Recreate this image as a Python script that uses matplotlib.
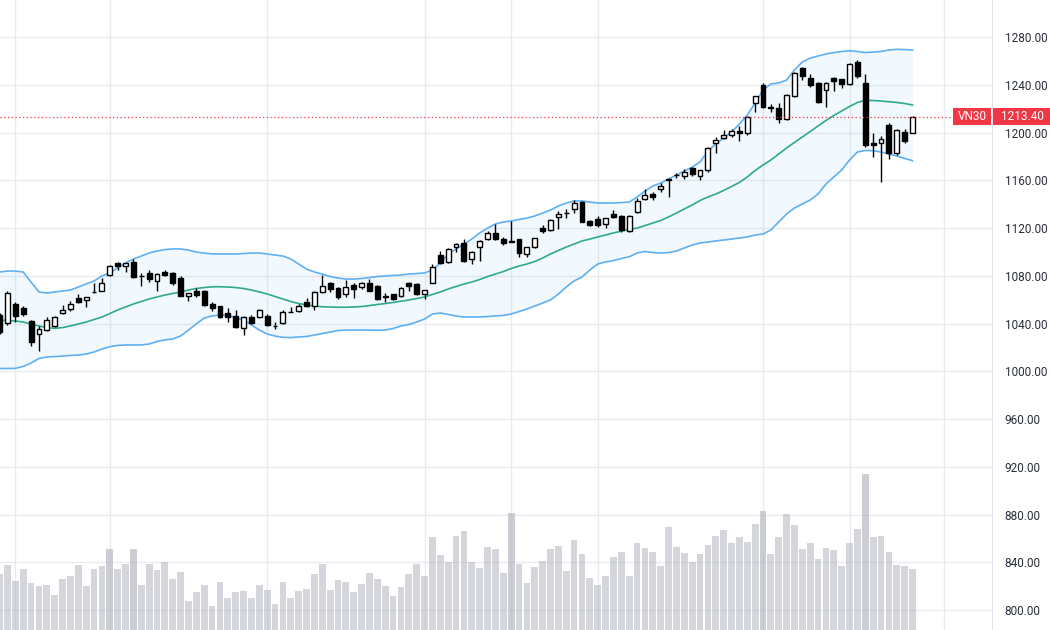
import numpy as np
import matplotlib.pyplot as plt
from matplotlib.patches import Rectangle
from matplotlib.transforms import blended_transform_factory

# daily OHLC of VN30 (oldest first)
opens = [1047.2, 1040.2, 1056.1, 1052.8, 1042.1, 1031.0, 1034.6, 1038.0, 1048.6, 1052.0,
         1061.2, 1059.7, 1066.2, 1067.5, 1080.7, 1090.5, 1088.2, 1091.8, 1080.2, 1082.6,
         1075.9, 1083.4, 1082.1, 1077.9, 1063.1, 1067.3, 1067.5, 1056.4, 1054.7, 1049.1,
         1046.3, 1036.0, 1045.2, 1045.2, 1046.3, 1038.4, 1040.7, 1049.8, 1050.8, 1058.3,
         1054.7, 1066.7, 1073.7, 1069.5, 1064.8, 1072.3, 1070.4, 1074.2, 1071.5, 1062.8,
         1064.5, 1063.1, 1073.7, 1073.1, 1064.8, 1074.2, 1097.4, 1091.8, 1103.9, 1107.2,
         1093.8, 1103.9, 1110.6, 1116.1, 1110.6, 1108.4, 1110.6, 1098.3, 1103.9, 1120.0,
         1118.4, 1129.5, 1133.0, 1135.7, 1142.1, 1125.9, 1127.3, 1123.4, 1131.8, 1130.1,
         1117.5, 1133.7, 1144.3, 1148.5, 1152.4, 1160.6, 1164.2, 1163.6, 1170.0, 1163.6,
         1168.6, 1191.0, 1195.2, 1197.9, 1201.5, 1199.3, 1224.5, 1239.8, 1221.5, 1220.3,
         1211.1, 1230.6, 1253.8, 1245.4, 1241.7, 1235.6, 1245.4, 1244.6, 1240.6, 1258.9,
         1241.7, 1191.0, 1191.5, 1206.3, 1183.1, 1200.7, 1199.9]
highs = [1049.0, 1067.3, 1058.3, 1054.7, 1043.0, 1038.0, 1045.5, 1046.5, 1055.5, 1058.9,
         1064.8, 1062.3, 1073.7, 1078.4, 1089.0, 1091.6, 1091.0, 1093.8, 1082.1, 1084.9,
         1082.0, 1084.5, 1083.0, 1079.8, 1066.0, 1069.5, 1068.0, 1058.3, 1055.0, 1052.8,
         1051.4, 1046.0, 1047.2, 1052.0, 1048.0, 1041.6, 1051.0, 1054.1, 1056.0, 1061.2,
         1067.0, 1080.7, 1075.0, 1071.0, 1076.5, 1074.2, 1074.5, 1077.1, 1072.5, 1065.3,
         1065.0, 1071.0, 1075.0, 1074.0, 1068.5, 1089.9, 1101.0, 1103.0, 1107.7, 1110.6,
         1101.0, 1110.0, 1117.8, 1123.4, 1112.8, 1126.1, 1111.0, 1104.5, 1112.0, 1122.5,
         1127.5, 1134.3, 1135.7, 1143.5, 1143.0, 1127.0, 1130.1, 1128.5, 1135.1, 1131.0,
         1131.0, 1144.9, 1152.4, 1150.4, 1157.5, 1161.7, 1166.4, 1169.2, 1171.4, 1169.0,
         1187.5, 1196.0, 1202.1, 1202.7, 1205.5, 1213.8, 1231.0, 1241.2, 1223.9, 1224.5,
         1232.0, 1251.0, 1255.1, 1249.0, 1242.0, 1242.0, 1246.2, 1245.0, 1258.0, 1260.7,
         1249.0, 1199.3, 1197.1, 1208.2, 1202.7, 1202.7, 1214.0]
lows = [1031.0, 1038.8, 1041.6, 1046.3, 1021.2, 1017.0, 1034.0, 1037.5, 1048.0, 1050.5,
        1057.0, 1054.0, 1066.0, 1067.0, 1080.0, 1085.0, 1083.4, 1078.0, 1071.5, 1075.0,
        1067.3, 1080.0, 1072.3, 1063.0, 1059.0, 1062.0, 1055.0, 1050.8, 1045.0, 1041.6,
        1036.0, 1030.4, 1040.0, 1044.5, 1038.0, 1035.2, 1040.0, 1049.5, 1050.0, 1053.5,
        1051.4, 1066.0, 1066.7, 1061.0, 1062.5, 1061.2, 1069.0, 1067.0, 1059.5, 1058.3,
        1060.0, 1062.5, 1067.5, 1063.9, 1060.3, 1074.0, 1090.0, 1091.0, 1100.2, 1092.0,
        1089.9, 1092.6, 1110.0, 1110.0, 1105.8, 1108.0, 1096.0, 1095.5, 1103.0, 1116.1,
        1117.5, 1119.0, 1128.2, 1132.3, 1125.0, 1121.8, 1121.1, 1119.8, 1128.2, 1117.0,
        1117.0, 1132.9, 1143.5, 1143.5, 1150.4, 1146.2, 1161.7, 1160.8, 1164.0, 1160.2,
        1167.2, 1182.6, 1194.3, 1196.5, 1193.2, 1197.9, 1217.4, 1220.5, 1217.4, 1208.2,
        1210.5, 1230.0, 1244.0, 1237.9, 1224.5, 1221.6, 1235.0, 1237.0, 1240.0, 1246.0,
        1187.6, 1179.2, 1158.8, 1177.6, 1181.2, 1191.0, 1199.3]
closes = [1033.0, 1065.3, 1046.3, 1048.0, 1024.8, 1035.2, 1043.0, 1045.8, 1051.4, 1056.1,
          1058.3, 1062.0, 1066.7, 1074.2, 1088.2, 1088.2, 1090.5, 1078.7, 1079.8, 1077.1,
          1081.3, 1080.7, 1073.7, 1063.1, 1065.8, 1063.9, 1055.5, 1052.8, 1045.8, 1045.8,
          1036.9, 1045.2, 1040.7, 1051.4, 1038.8, 1038.0, 1050.0, 1050.0, 1054.7, 1054.7,
          1066.1, 1071.5, 1068.7, 1062.0, 1070.4, 1068.7, 1073.7, 1067.5, 1060.3, 1062.3,
          1060.5, 1070.1, 1071.5, 1064.8, 1068.1, 1087.6, 1090.5, 1102.2, 1106.4, 1092.6,
          1100.2, 1109.4, 1115.6, 1110.6, 1107.7, 1108.8, 1098.8, 1103.9, 1111.4, 1117.5,
          1126.7, 1131.8, 1132.6, 1141.2, 1125.4, 1122.5, 1122.5, 1128.2, 1129.5, 1118.4,
          1130.1, 1142.9, 1147.7, 1146.2, 1155.2, 1161.0, 1164.6, 1167.2, 1165.0, 1168.6,
          1186.8, 1193.7, 1197.9, 1201.3, 1199.8, 1213.3, 1230.6, 1221.6, 1220.7, 1211.1,
          1231.4, 1250.1, 1247.3, 1239.8, 1225.8, 1241.2, 1243.4, 1240.6, 1257.4, 1247.0,
          1189.5, 1189.8, 1194.3, 1182.6, 1202.1, 1193.2, 1213.4]
# volume, millions of shares
volumes = [113, 130, 99, 123, 95, 88, 90, 70, 103, 109,
           130, 88, 123, 128, 162, 123, 132, 163, 90, 132,
           121, 136, 103, 117, 58, 76, 90, 48, 97, 64,
           76, 78, 64, 90, 81, 53, 97, 64, 78, 82,
           113, 133, 80, 101, 97, 76, 93, 115, 103, 88,
           68, 86, 113, 132, 109, 187, 150, 136, 189, 199,
           136, 124, 167, 163, 115, 235, 132, 95, 126, 138,
           163, 169, 118, 181, 153, 105, 91, 109, 146, 157,
           109, 175, 165, 157, 128, 206, 167, 155, 136, 152,
           171, 189, 201, 175, 187, 177, 212, 239, 152, 187,
           233, 210, 163, 175, 142, 165, 161, 128, 175, 202,
           313, 187, 189, 157, 130, 128, 122]
# Bollinger band (20, 2) as drawn on the chart
bb_upper = [1083.2, 1084.0, 1084.0, 1083.2, 1074.8, 1066.5, 1065.6, 1066.5, 1067.3, 1068.1,
            1070.6, 1073.2, 1075.7, 1079.9, 1082.4, 1086.6, 1090.7, 1094.1, 1096.6, 1099.1,
            1100.8, 1102.0, 1102.5, 1102.5, 1101.6, 1099.9, 1099.1, 1098.3, 1098.3, 1098.3,
            1098.3, 1098.7, 1099.1, 1099.1, 1098.3, 1097.4, 1096.6, 1094.1, 1089.9, 1085.7,
            1083.2, 1081.5, 1079.4, 1078.2, 1077.3, 1077.3, 1077.8, 1078.6, 1079.4, 1079.9,
            1080.3, 1080.7, 1081.5, 1081.9, 1082.4, 1084.9, 1090.7, 1098.3, 1102.5, 1106.6,
            1110.8, 1115.9, 1120.0, 1123.4, 1125.1, 1125.9, 1127.2, 1128.4, 1130.1, 1132.6,
            1135.1, 1138.5, 1141.0, 1142.7, 1142.7, 1141.8, 1141.0, 1141.0, 1141.0, 1141.4,
            1141.8, 1146.0, 1151.0, 1155.2, 1157.7, 1161.1, 1164.4, 1167.8, 1171.1, 1175.3,
            1184.5, 1190.4, 1195.4, 1200.5, 1207.1, 1214.7, 1224.7, 1235.6, 1240.7, 1241.5,
            1244.0, 1252.4, 1259.1, 1262.4, 1264.1, 1265.8, 1267.0, 1267.9, 1268.5, 1267.9,
            1267.0, 1267.4, 1267.9, 1269.1, 1269.7, 1269.5, 1269.1]
bb_mid = [1043.0, 1042.6, 1042.2, 1041.3, 1039.7, 1038.0, 1036.7, 1036.0, 1036.7, 1038.0,
          1039.7, 1041.3, 1043.4, 1045.5, 1048.4, 1051.4, 1053.9, 1056.4, 1058.5, 1060.6,
          1062.3, 1063.9, 1065.2, 1066.5, 1068.1, 1069.4, 1070.2, 1070.8, 1070.9, 1070.6,
          1070.2, 1069.4, 1068.1, 1066.5, 1064.8, 1062.7, 1060.6, 1058.5, 1056.8, 1055.6,
          1054.7, 1054.1, 1053.9, 1053.7, 1053.7, 1053.9, 1054.3, 1055.1, 1056.0, 1056.8,
          1057.7, 1058.7, 1059.8, 1061.0, 1062.3, 1064.4, 1066.5, 1069.0, 1071.1, 1073.1,
          1074.8, 1076.9, 1079.4, 1081.5, 1083.6, 1086.1, 1088.2, 1089.9, 1092.0, 1094.9,
          1098.3, 1101.2, 1104.1, 1106.6, 1109.2, 1110.8, 1112.5, 1114.2, 1115.9, 1117.5,
          1118.8, 1120.0, 1122.1, 1124.2, 1126.3, 1129.3, 1132.6, 1136.0, 1139.3, 1143.1,
          1146.0, 1148.5, 1151.5, 1154.8, 1158.2, 1162.8, 1168.2, 1172.8, 1177.0, 1182.0,
          1187.1, 1191.7, 1196.3, 1200.9, 1205.5, 1210.1, 1214.3, 1218.0, 1221.8, 1225.2,
          1227.0, 1226.8, 1226.4, 1225.8, 1225.2, 1224.3, 1223.1]
bb_lower = [1002.4, 1002.4, 1002.5, 1004.1, 1007.0, 1010.8, 1012.0, 1012.4, 1012.8, 1013.3,
            1013.7, 1014.5, 1016.2, 1018.7, 1020.6, 1021.7, 1022.1, 1022.1, 1022.1, 1022.9,
            1025.0, 1026.3, 1027.1, 1029.6, 1034.6, 1039.7, 1044.7, 1046.4, 1047.2, 1046.8,
            1045.1, 1043.0, 1038.8, 1034.6, 1031.3, 1029.6, 1028.5, 1028.3, 1028.8, 1029.2,
            1030.4, 1031.7, 1032.9, 1034.2, 1034.6, 1034.6, 1034.6, 1034.6, 1034.4, 1034.6,
            1035.9, 1038.0, 1039.2, 1041.3, 1043.8, 1048.0, 1048.9, 1047.6, 1046.4, 1045.5,
            1045.5, 1045.5, 1045.9, 1046.4, 1046.8, 1048.0, 1050.1, 1052.2, 1054.7, 1057.2,
            1059.8, 1064.8, 1070.6, 1075.7, 1079.0, 1084.9, 1089.9, 1091.6, 1092.8, 1094.5,
            1096.0, 1099.1, 1100.4, 1099.5, 1099.1, 1099.5, 1100.8, 1103.3, 1105.8, 1107.5,
            1108.3, 1109.2, 1110.0, 1110.8, 1111.7, 1112.5, 1114.2, 1115.0, 1118.4, 1125.1,
            1131.8, 1136.8, 1140.2, 1143.5, 1148.5, 1156.9, 1162.8, 1168.6, 1177.0, 1183.7,
            1185.0, 1184.8, 1183.7, 1182.0, 1180.4, 1178.3, 1176.4]

month_starts = [2, 14, 34, 54, 65, 76, 97, 108, 120]   # bar index of each vertical grid line
price_ticks = list(range(800, 1281, 40))
symbol = 'VN30'
last_price = 1213.40
dark_volume = [14, 17, 65, 97, 110]

o = np.array(opens); h = np.array(highs); l = np.array(lows); c = np.array(closes)
x = np.arange(len(o))
up = c >= o

fig = plt.figure(figsize=(10.5, 6.3), dpi=100)
ax = fig.add_axes([0, 0, 992 / 1050, 1])
ax2 = ax.twinx()   # volume overlay (twinx moves ax ticks left, so set them after)

ax.set_xlim(0.05, 126.1)
ax.set_ylim(783.4, 1311.0)

grid_col = '#e9ebf0'
for p in price_ticks:
    ax.axhline(p, color=grid_col, lw=1, zorder=0)
for m in month_starts:
    ax.axvline(m, color=grid_col, lw=1, zorder=0)

# bollinger band
ax.fill_between(x, bb_lower, bb_upper, color='#2196f3', alpha=0.06, lw=0, zorder=1)
ax.plot(x, bb_upper, color='#5fb0f2', lw=1.2, zorder=2)
ax.plot(x, bb_lower, color='#5fb0f2', lw=1.2, zorder=2)
ax.plot(x, bb_mid, color='#2fa98f', lw=1.2, zorder=2)

# candles
ax.vlines(x, l, h, color='black', lw=1, zorder=3)
body_lo = np.minimum(o, c)
body_h = np.abs(c - o)
ax.bar(x[up], body_h[up], bottom=body_lo[up], width=0.62, facecolor='white',
       edgecolor='black', lw=1, zorder=4)
ax.bar(x[~up], body_h[~up], bottom=body_lo[~up], width=0.62, facecolor='black',
       edgecolor='black', lw=1, zorder=4)

# last price line and labels
red = '#f23645'
ax.axhline(last_price, color=red, lw=0.9, ls=(0, (1, 2)), zorder=5)
trans = blended_transform_factory(ax.transAxes, ax.transData)
ax.add_patch(Rectangle((953 / 992, last_price - 7), 38 / 992, 14, transform=trans,
                       facecolor=red, edgecolor='none', clip_on=False, zorder=6))
ax.add_patch(Rectangle((993 / 992, last_price - 7), 57 / 992, 14, transform=trans,
                       facecolor=red, edgecolor='none', clip_on=False, zorder=6))
ax.text(972 / 992, last_price, symbol, transform=trans, color='white', fontsize=8.5,
        family='Roboto', ha='center', va='center', zorder=7)
ax.text(1022 / 992, last_price, f'{last_price:.2f}', transform=trans, color='white',
        fontsize=8.5, family='Roboto', ha='center', va='center', zorder=7, clip_on=False)

# price scale on the right
ax.yaxis.tick_right()
ax.yaxis.set_label_position('right')
ax.set_yticks(price_ticks)
ax.set_yticklabels([f'{p:.2f}' for p in price_ticks], family='Roboto', fontsize=8.5,
                   color='#2a2e39')
ax.tick_params(axis='y', length=0, pad=9, left=False, labelleft=False,
               right=True, labelright=True)
ax.set_xticks([])
for s in ['top', 'left', 'bottom']:
    ax.spines[s].set_visible(False)
ax.spines['right'].set_color('#e0e3eb')

# volume bars
ax2.set_ylim(0, 1260)
for i, v in enumerate(volumes):
    ax2.bar(x[i], v, width=0.86, color='#b2b5be',
            alpha=0.66 if i in dark_volume else 0.55, lw=0)
ax2.axis('off')

fig.savefig('out.png', dpi=100)
